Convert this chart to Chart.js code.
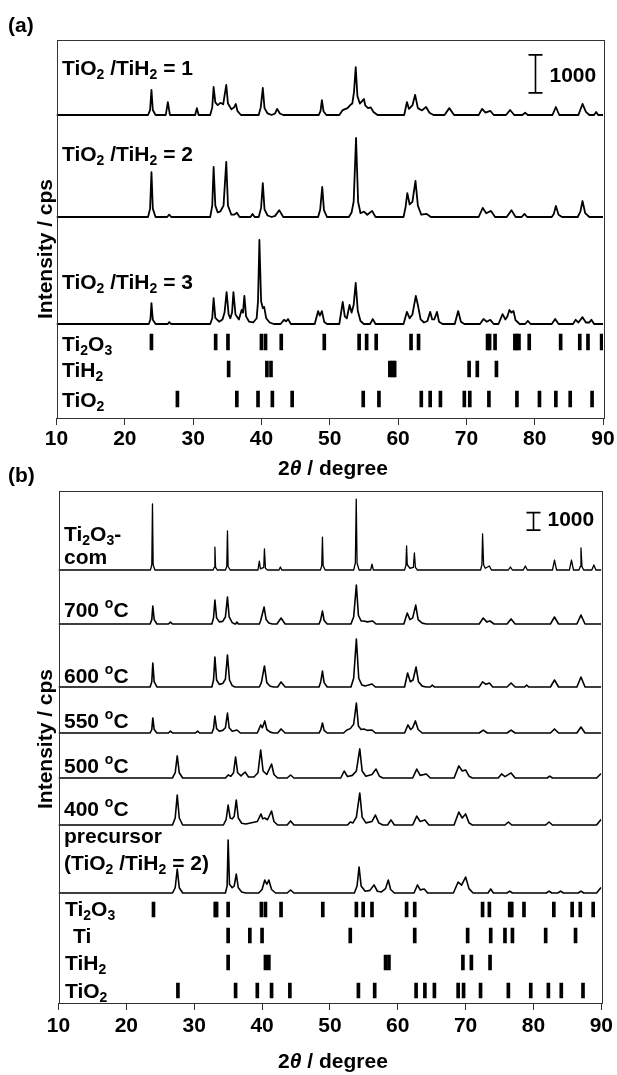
<!DOCTYPE html>
<html><head><meta charset="utf-8">
<script src="https://cdn.jsdelivr.net/npm/chart.js@4.4.1/dist/chart.umd.min.js"></script>
<style>
html,body{margin:0;padding:0;background:#fff;}
body{width:617px;height:1075px;position:relative;overflow:hidden;}
canvas{position:absolute;left:0;}
#cA{top:0;} #cB{top:460px;}
</style></head><body>
<canvas id="cA" width="617" height="490"></canvas>
<canvas id="cB" width="617" height="615"></canvas>
<script>
// ---------------- DATA (2θ in degrees, intensity in cps) ----------------
const xTickLabels = [10, 20, 30, 40, 50, 60, 70, 80, 90];

// Panel (a)
const seriesNamesA = ['TiO_2 /TiH_2 = 1', 'TiO_2 /TiH_2 = 2', 'TiO_2 /TiH_2 = 3'];
const ratio1 = [[10,0],
 [23.4,0],[23.7,130],[23.9,660],[24.1,130],[24.5,0],
 [26.0,0],[26.3,340],[26.6,0],
 [30.3,0],[30.55,180],[30.8,0],
 [32.5,0],[32.8,200],[33.0,740],[33.25,330],[33.6,260],[34.0,320],[34.4,280],[34.85,790],[35.1,300],[35.6,150],[36.0,200],[36.25,290],[36.5,100],[37.0,0],
 [39.6,0],[39.9,200],[40.2,710],[40.45,180],[40.9,40],[41.5,0],
 [42.0,40],[42.3,160],[42.7,40],[43.2,0],
 [48.4,0],[48.65,100],[48.85,390],[49.1,90],[49.5,0],
 [51.4,0],[51.9,130],[52.6,180],[53.0,260],[53.3,300],[53.55,600],[53.8,1260],[54.05,500],[54.4,300],[54.8,380],[55.0,420],[55.2,250],[55.6,180],[56.0,200],[56.4,80],[57.0,0],
 [60.9,0],[61.3,340],[61.6,160],[62.1,250],[62.5,530],[62.9,180],[63.5,120],[64.1,210],[64.6,60],[65.2,0],
 [66.8,0],[67.5,180],[68.2,0],
 [71.8,0],[72.3,160],[72.8,60],[73.5,110],[74.0,0],
 [75.8,0],[76.4,130],[77.0,0],
 [78.2,0],[78.6,60],[79.0,0],
 [82.6,0],[83.1,210],[83.6,0],
 [86.4,0],[87.0,290],[87.5,80],[88.0,0],
 [88.7,0],[89.0,80],[89.3,0],[90,0]];
const ratio2 = [[10,0],
 [23.4,0],[23.7,220],[23.9,1180],[24.1,220],[24.5,0],
 [26.2,0],[26.5,60],[26.8,0],
 [32.5,0],[32.8,300],[33.0,1320],[33.25,300],[33.6,120],[34.0,150],[34.45,300],[34.85,1450],[35.1,300],[35.6,60],[36.0,60],[36.4,110],[36.8,0],
 [38.4,0],[38.7,80],[39.0,0],
 [39.6,0],[39.95,240],[40.2,890],[40.45,200],[40.9,40],[41.5,0],
 [42.0,30],[42.6,180],[43.2,0],
 [48.3,0],[48.6,200],[48.9,790],[49.15,180],[49.6,0],
 [52.8,0],[53.2,120],[53.5,400],[53.85,2080],[54.15,400],[54.5,100],[55.0,140],[55.5,60],[56.2,160],[56.7,0],
 [60.8,0],[61.1,260],[61.35,630],[61.7,330],[62.1,400],[62.55,950],[62.9,300],[63.4,60],[64.2,80],[64.8,0],
 [71.8,0],[72.4,240],[72.9,100],[73.6,160],[74.2,0],
 [75.9,0],[76.6,180],[77.2,0],
 [78.1,0],[78.5,80],[78.9,0],
 [82.5,0],[82.8,80],[83.1,290],[83.5,60],[84.0,0],
 [86.3,0],[86.7,150],[87.0,420],[87.4,100],[88.0,0],[90,0]];
const ratio3 = [[10,0],
 [23.5,0],[23.75,120],[23.9,550],[24.1,110],[24.5,0],
 [26.3,0],[26.5,50],[26.8,0],
 [32.5,0],[32.8,150],[33.0,680],[33.25,160],[33.8,60],[34.3,120],[34.6,300],[34.9,840],[35.2,250],[35.45,150],[35.7,300],[35.9,840],[36.2,250],[36.7,120],[37.1,370],[37.3,300],[37.5,740],[37.75,200],[38.2,60],[38.8,40],[39.3,150],[39.5,600],[39.7,2210],[39.95,600],[40.2,420],[40.4,450],[40.7,150],[41.2,40],[41.8,0],
 [42.8,0],[43.3,110],[43.6,70],[43.9,130],[44.3,0],
 [47.8,0],[48.3,340],[48.55,220],[48.85,340],[49.2,50],[49.6,0],
 [51.4,0],[51.9,580],[52.2,200],[52.5,150],[52.9,500],[53.2,300],[53.5,500],[53.8,1080],[54.1,350],[54.5,80],[55.0,0],
 [55.9,0],[56.3,130],[56.7,0],
 [60.8,0],[61.3,320],[61.7,150],[62.1,250],[62.6,740],[62.9,500],[63.3,120],[63.8,40],[64.3,80],[64.7,320],[65.0,120],[65.3,120],[65.7,320],[66.0,60],[66.5,0],
 [68.3,0],[68.8,340],[69.2,60],[69.7,0],
 [72.0,0],[72.5,130],[73.0,60],[73.5,110],[74.0,0],
 [74.7,0],[75.3,260],[75.7,120],[76.0,200],[76.3,370],[76.6,300],[76.9,340],[77.2,100],[77.8,0],
 [78.6,0],[79.0,80],[79.4,0],
 [82.5,0],[83.0,130],[83.5,0],
 [85.6,0],[86.0,110],[86.4,40],[87.0,180],[87.5,40],[88.0,40],[88.3,110],[88.7,0],[90,0]];

const phaseNamesA = ['Ti_2O_3', 'TiH_2', 'TiO_2'];
const ti2o3RefA = [23.9, 33.3, 35.1, 40.0, 40.6, 42.9, 49.2, 54.3, 55.4, 56.8, 61.9, 63.0, 73.1, 73.4, 74.2, 77.1, 77.4, 77.7, 79.2, 83.8, 86.6, 87.8, 89.8];
const tih2RefA  = [35.2, 40.8, 41.4, 58.8, 59.2, 59.5, 70.4, 71.6, 74.4];
const tio2RefA  = [27.7, 36.4, 39.5, 41.6, 44.5, 54.9, 57.2, 63.4, 64.7, 66.2, 69.7, 70.5, 73.3, 77.4, 80.7, 83.1, 85.2, 88.4];

// Panel (b)
const seriesNamesB = [['Ti_2O_3-', 'com'], ['700 ^oC'], ['600 ^oC'], ['550 ^oC'], ['500 ^oC'], ['400 ^oC'], ['precursor', '(TiO_2 /TiH_2 = 2)']];
const ti2o3Com = [[10,0],
 [23.55,0],[23.75,300],[23.85,3770],[23.95,300],[24.2,0],
 [32.8,0],[32.95,150],[33.05,1310],[33.15,150],[33.4,0],
 [34.6,0],[34.8,200],[34.9,2230],[35.0,200],[35.3,0],
 [39.4,0],[39.6,510],[39.75,60],[40.25,150],[40.35,1200],[40.5,100],[40.8,0],
 [42.5,0],[42.7,170],[42.9,0],
 [48.6,0],[48.8,250],[48.9,1880],[49.0,250],[49.3,0],
 [53.5,0],[53.75,400],[53.88,4050],[54.0,400],[54.3,0],
 [56.0,0],[56.2,340],[56.4,0],
 [61.0,0],[61.2,250],[61.3,1370],[61.4,300],[61.8,100],[62.3,150],[62.45,970],[62.6,150],[62.9,0],
 [72.2,0],[72.4,300],[72.5,2060],[72.65,300],[72.9,100],[73.5,230],[73.8,0],
 [76.3,0],[76.6,170],[76.9,0],
 [78.5,0],[78.8,230],[79.1,0],
 [82.8,0],[83.1,570],[83.4,0],
 [85.3,0],[85.6,570],[85.9,0],
 [86.7,0],[86.9,200],[87.0,1260],[87.15,200],[87.4,0],
 [88.6,0],[88.9,290],[89.2,0],[90,0]];
const t700 = [[10,0],
 [23.5,0],[23.75,250],[23.9,1030],[24.1,250],[24.5,0],
 [26.2,0],[26.5,110],[26.8,0],
 [32.6,0],[32.85,350],[33.05,1370],[33.3,350],[33.7,120],[34.2,150],[34.6,400],[34.9,1540],[35.15,400],[35.6,80],[36.0,0],
 [36.1,0],[36.3,110],[36.5,0],
 [39.6,0],[39.8,200],[40.3,970],[40.6,250],[41.0,60],[41.5,0],
 [42.2,0],[42.8,340],[43.4,0],
 [48.4,0],[48.65,250],[48.9,740],[49.15,200],[49.6,0],
 [53.1,0],[53.5,400],[53.9,2230],[54.2,500],[54.6,170],[55.0,170],[55.5,120],[56.3,170],[56.8,0],
 [60.9,0],[61.4,630],[61.8,250],[62.2,350],[62.65,1080],[63.0,250],[63.6,50],[64.2,0],
 [72.0,0],[72.6,340],[73.1,120],[73.6,170],[74.2,0],
 [76.1,0],[76.7,290],[77.3,0],
 [82.5,0],[83.1,400],[83.7,0],
 [86.4,0],[87.0,510],[87.6,0],[90,0]];
const t600 = [[10,0],
 [23.5,0],[23.75,300],[23.9,1370],[24.1,300],[24.5,0],
 [32.6,0],[32.85,400],[33.05,1710],[33.3,400],[33.7,150],[34.2,200],[34.6,450],[34.9,1830],[35.2,400],[35.6,80],[36.0,0],
 [39.6,0],[39.9,250],[40.35,1200],[40.7,250],[41.2,40],[41.7,0],
 [42.3,0],[42.8,290],[43.4,0],
 [48.4,0],[48.65,300],[48.9,910],[49.15,250],[49.6,0],
 [53.1,0],[53.5,500],[53.9,2740],[54.25,500],[54.7,120],[55.2,60],[56.2,170],[56.7,0],
 [61.0,0],[61.45,800],[61.85,300],[62.25,400],[62.7,1140],[63.05,300],[63.6,50],[64.2,0],
 [64.8,0],[65.1,110],[65.4,0],
 [72.0,0],[72.5,290],[73.0,150],[73.5,230],[74.0,0],
 [76.1,0],[76.7,230],[77.3,0],
 [78.7,0],[79.0,110],[79.3,0],
 [82.5,0],[83.1,400],[83.7,0],
 [86.4,0],[87.0,570],[87.6,0],[90,0]];
const t550 = [[10,0],
 [23.5,0],[23.75,200],[23.9,860],[24.1,200],[24.5,0],
 [26.2,0],[26.5,110],[26.8,0],
 [30.2,0],[30.5,110],[30.8,0],
 [32.6,0],[32.85,250],[33.05,970],[33.3,250],[33.7,100],[34.2,150],[34.6,300],[34.9,1140],[35.15,300],[35.6,100],[36.3,170],[36.8,0],
 [39.3,0],[39.8,460],[40.05,300],[40.4,690],[40.7,200],[41.2,50],[41.7,0],
 [42.3,0],[42.8,230],[43.4,0],
 [48.4,0],[48.65,180],[48.9,570],[49.15,150],[49.6,0],
 [52.0,0],[52.5,170],[53.0,250],[53.5,500],[53.9,1710],[54.2,400],[54.6,200],[55.0,230],[55.5,150],[56.2,170],[56.7,0],
 [61.0,0],[61.5,460],[61.9,200],[62.2,300],[62.6,690],[63.0,200],[63.6,0],
 [72.0,0],[72.6,170],[73.2,0],
 [76.1,0],[76.7,170],[77.3,0],
 [82.5,0],[83.1,230],[83.7,0],
 [86.4,0],[87.0,340],[87.6,0],[90,0]];
const t500 = [[10,0],
 [26.8,0],[27.2,300],[27.5,1260],[27.8,300],[28.3,0],
 [34.6,0],[35.0,170],[35.4,100],[35.8,300],[36.1,1200],[36.4,300],[36.9,120],[37.5,340],[38.0,60],[38.8,60],[39.4,300],[39.8,1600],[40.15,400],[40.7,200],[41.4,800],[41.75,200],[42.3,0],
 [43.7,0],[44.2,170],[44.7,0],
 [51.6,0],[52.1,400],[52.6,80],[53.3,150],[53.9,400],[54.4,1660],[54.75,400],[55.3,100],[56.2,200],[56.8,510],[57.3,100],[57.8,0],
 [62.2,0],[62.8,510],[63.3,150],[64.2,230],[64.8,0],
 [68.3,0],[69.0,690],[69.5,400],[70.0,460],[70.5,100],[71.0,0],
 [74.8,0],[75.3,230],[75.8,80],[76.7,290],[77.3,0],
 [82.0,0],[82.4,110],[82.8,0],
 [89.3,0],[89.9,230],[90,200]];
const t400 = [[10,0],
 [26.8,0],[27.2,400],[27.5,1710],[27.8,400],[28.3,0],
 [34.3,0],[34.7,300],[35.0,1140],[35.3,400],[35.6,350],[35.9,500],[36.2,1430],[36.5,400],[37.0,100],[37.6,60],[39.3,200],[39.85,630],[40.1,350],[40.4,400],[40.8,300],[41.4,800],[41.75,200],[42.3,0],
 [43.7,0],[44.2,230],[44.7,0],
 [52.6,0],[53.0,170],[53.4,120],[53.9,450],[54.4,1830],[54.75,450],[55.3,120],[56.2,200],[56.7,570],[57.2,120],[57.8,0],
 [58.5,0],[59.0,290],[59.5,0],
 [62.2,0],[62.8,510],[63.3,200],[64.0,290],[64.6,0],
 [68.3,0],[69.0,740],[69.5,400],[70.0,630],[70.5,120],[71.0,0],
 [75.8,0],[76.3,170],[76.8,0],
 [81.8,0],[82.3,170],[82.8,0],
 [89.3,0],[89.9,290],[90,250]];
const precursor = [[10,0],
 [26.8,0],[27.2,300],[27.5,1370],[27.8,300],[28.3,0],
 [34.6,0],[34.85,400],[35.0,3030],[35.2,500],[35.6,300],[35.9,400],[36.2,1080],[36.5,300],[37.0,60],[37.6,0],
 [39.5,0],[40.0,200],[40.4,740],[40.7,500],[41.0,740],[41.4,200],[42.0,0],
 [43.7,0],[44.2,170],[44.7,0],
 [53.6,0],[54.0,400],[54.3,1480],[54.6,400],[55.2,100],[55.9,150],[56.5,460],[57.0,100],[57.6,60],[58.2,250],[58.6,740],[58.95,200],[59.5,0],
 [62.4,0],[62.9,460],[63.3,180],[63.9,230],[64.4,0],
 [68.2,0],[68.9,630],[69.4,450],[70.0,910],[70.5,250],[71.1,0],
 [73.3,0],[73.7,230],[74.1,0],
 [76.1,0],[76.5,110],[76.9,0],
 [81.9,0],[82.3,110],[82.7,0],
 [83.6,0],[84.0,110],[84.4,0],
 [86.6,0],[87.0,110],[87.4,0],
 [89.3,0],[89.9,290],[90,250]];

const phaseNamesB = ['Ti_2O_3', 'Ti', 'TiH_2', 'TiO_2'];
const ti2o3RefB = [24.0, 33.1, 33.3, 35.0, 39.9, 40.5, 42.8, 48.95, 53.9, 54.9, 56.2, 61.3, 62.5, 72.5, 73.5, 76.5, 76.8, 78.6, 83.0, 85.7, 86.9, 88.8];
const tiRefB    = [35.0, 38.2, 40.0, 53.0, 62.5, 70.3, 73.7, 75.8, 76.9, 81.8, 86.2];
const tih2RefB  = [35.0, 40.5, 41.0, 58.2, 58.7, 69.6, 70.85, 73.6];
const tio2RefB  = [27.6, 36.1, 39.3, 41.4, 44.1, 54.2, 56.6, 62.7, 64.0, 65.4, 68.9, 69.7, 72.2, 76.3, 79.6, 82.2, 84.1, 87.3];

const scaleBarValue = 1000; // cps

// ---------------- LAYOUT / STYLE ----------------
const FONT = '"Liberation Sans", Arial, Helvetica, sans-serif';
const LABEL_SIZE = 21;

function parseRich(s){
  const parts=[]; let buf='';
  for(let i=0;i<s.length;i++){
    const c=s[i];
    if(c==='_'||c==='^'||c==='~'){
      if(buf){parts.push([buf,'n']);buf='';}
      parts.push([s[i+1], c==='_'?'sub':(c==='^'?'sup':'it')]); i++;
    } else buf+=c;
  }
  if(buf) parts.push([buf,'n']);
  return parts;
}
function fontFor(k,size){
  const fs=(k==='sub'||k==='sup')?Math.round(size*0.66):size;
  return (k==='it'?'italic ':'')+'bold '+fs+'px '+FONT;
}
function richWidth(ctx,s,size){
  let w=0; for(const [t,k] of parseRich(s)){ctx.font=fontFor(k,size); w+=ctx.measureText(t).width;} return w;
}
function drawRich(ctx,s,x,y,size,align){
  const parts=parseRich(s);
  const w=richWidth(ctx,s,size);
  let cx = align==='center'? x-w/2 : x;
  ctx.textBaseline='alphabetic'; ctx.textAlign='left'; ctx.fillStyle='#000';
  for(const [t,k] of parts){
    ctx.font=fontFor(k,size);
    const dy = k==='sub'? size*0.2 : (k==='sup'? -size*0.45 : 0);
    ctx.fillText(t,cx,y+dy);
    cx+=ctx.measureText(t).width;
  }
}

function makeOverlay(o){
  return {
    id:'overlay'+o.tag,
    afterDraw(chart){
      const ctx=chart.ctx, a=chart.chartArea, xs=chart.scales.x, ys=chart.scales.y;
      ctx.save();
      ctx.strokeStyle='#333'; ctx.lineWidth=1;
      ctx.strokeRect(Math.round(a.left)+0.5, Math.round(a.top)+0.5, Math.round(a.right-a.left), Math.round(a.bottom-a.top));
      drawRich(ctx,o.tag,8,o.tagY,LABEL_SIZE,'left');
      o.series.forEach(s=>{ s.lines.forEach((ln,i)=>drawRich(ctx,ln,s.x,s.y[i],LABEL_SIZE,'left')); });
      o.phases.forEach(p=>drawRich(ctx,p.name,p.x,p.y,LABEL_SIZE,'left'));
      const bx=Math.round(xs.getPixelForValue(o.bar.x))+0.5;
      const b0=ys.getPixelForValue(o.bar.y0), b1=ys.getPixelForValue(o.bar.y0+scaleBarValue);
      ctx.strokeStyle='#000'; ctx.lineWidth=1.6;
      ctx.beginPath();
      ctx.moveTo(bx,b0); ctx.lineTo(bx,b1);
      ctx.moveTo(bx-7,b0); ctx.lineTo(bx+7,b0);
      ctx.moveTo(bx-7,b1); ctx.lineTo(bx+7,b1);
      ctx.stroke();
      drawRich(ctx,String(scaleBarValue),bx+14,o.bar.textY,LABEL_SIZE,'left');
      drawRich(ctx,'2~θ / degree',333,o.xTitleY,LABEL_SIZE,'center');
      ctx.save();
      ctx.translate(52,o.yTitleY); ctx.rotate(-Math.PI/2);
      drawRich(ctx,'Intensity / cps',0,0,LABEL_SIZE,'center');
      ctx.restore();
      ctx.restore();
    }
  };
}

function lineDS(points, offset, w){
  return {type:'line', data:points.map(p=>({x:p[0], y:p[1]+offset})), borderColor:'#000', borderWidth:w,
          pointRadius:0, tension:0, fill:false, borderJoinStyle:'round', order:1};
}
function tickDS(positions, lo, hi){
  return {type:'bar', data:positions.map(v=>({x:v, y:[lo,hi]})), backgroundColor:'#000', borderWidth:0,
          barThickness:3, grouped:false, order:2};
}
function xScale(pad){
  return {type:'linear', min:10, max:90, offset:false,
    afterBuildTicks:s=>{ s.ticks = xTickLabels.map(v=>({value:v})); },
    grid:{display:true, drawOnChartArea:false, drawTicks:true, tickLength:7, color:'#333', offset:false},
    border:{display:true, color:'#333', width:1},
    ticks:{autoSkip:false, maxRotation:0, color:'#000', padding:pad, font:{family:FONT, size:21, weight:'bold'}},
    afterFit:s=>{ s.height=72; }};
}
function baseOptions(padLeft, padTop, yMax, tickPad){
  return {responsive:false, animation:false, devicePixelRatio:1,
    layout:{padding:{left:padLeft, right:14, top:padTop, bottom:0}},
    plugins:{legend:{display:false}, tooltip:{enabled:false}},
    scales:{x:xScale(tickPad), y:{display:false, min:0, max:yMax}}};
}

// Panel (a)
const offsetsA = [7969, 5286, 2472];
const rowsA = [[1788,2209],[1078,1499],[289,710]];
new Chart(document.getElementById('cA'), {
  type:'line',
  data:{datasets:[
    lineDS(ratio1, offsetsA[0], 1.8), lineDS(ratio2, offsetsA[1], 1.8), lineDS(ratio3, offsetsA[2], 1.8),
    tickDS(ti2o3RefA, rowsA[0][0], rowsA[0][1]), tickDS(tih2RefA, rowsA[1][0], rowsA[1][1]), tickDS(tio2RefA, rowsA[2][0], rowsA[2][1])
  ]},
  options: baseOptions(56.5, 40, 9941, 2),
  plugins:[makeOverlay({tag:'(a)', tagY:32,
    series: seriesNamesA.map((n,i)=>({lines:[n], x:62, y:[[75],[161],[289]][i]})),
    phases: phaseNamesA.map((n,i)=>({name:n, x:62, y:[351,377,407][i]})),
    bar:{x:80, y0:8550, textY:81.5}, xTitleY:475, yTitleY:249})]
});

// Panel (b)
const offsetsB = [24724, 21641, 18044, 15417, 12848, 10164, 6281];
const rowsB = [[4911,5767],[3426,4283],[1884,2741],[286,1142]];
const patB = [ti2o3Com, t700, t600, t550, t500, t400, precursor];
const seriesYB = [[81,104],[157],[223],[268],[313],[356],[383,410]];
new Chart(document.getElementById('cB'), {
  type:'line',
  data:{datasets:[
    ...patB.map((p,i)=>lineDS(p, offsetsB[i], i===0?1.3:1.6)),
    tickDS(ti2o3RefB, rowsB[0][0], rowsB[0][1]), tickDS(tiRefB, rowsB[1][0], rowsB[1][1]),
    tickDS(tih2RefB, rowsB[2][0], rowsB[2][1]), tickDS(tio2RefB, rowsB[3][0], rowsB[3][1])
  ]},
  options: baseOptions(58.5, 31, 29235, 4),
  plugins:[makeOverlay({tag:'(b)', tagY:22,
    series: seriesNamesB.map((n,i)=>({lines:n, x:64, y:seriesYB[i]})),
    phases: phaseNamesB.map((n,i)=>({name:n, x:(i===1?73:65), y:[456,483,510,538][i]})),
    bar:{x:80, y0:27000, textY:66}, xTitleY:608, yTitleY:279})]
});
</script></body></html>
